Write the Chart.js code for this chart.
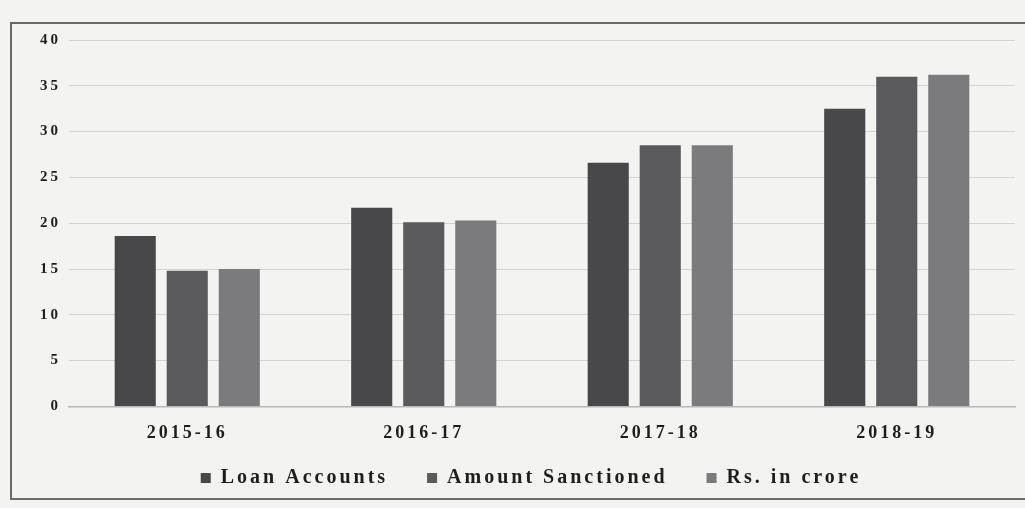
<!DOCTYPE html>
<html>
<head>
<meta charset="utf-8">
<script src="https://cdn.jsdelivr.net/npm/chart.js@4"></script>
<style>
  html, body { margin: 0; padding: 0; background: #f3f3f1; }
  #frame { position: absolute; left: 10px; top: 22px; width: 1040px; height: 478px; border: 2px solid #6a6a6a; box-sizing: border-box; }
  #wrap { position: absolute; left: 0; top: 0; width: 1025px; height: 508px; }
</style>
</head>
<body>
<div id="frame"></div>
<div id="wrap"><canvas id="c" width="1025" height="508"></canvas></div>
<script>
const categories = ["2015-16", "2016-17", "2017-18", "2018-19"];
const loanAccounts = [18.6, 21.7, 26.6, 32.5];
const amountSanctioned = [14.8, 20.1, 28.5, 36.0];
const rsInCrore = [15.0, 20.3, 28.5, 36.2];
const seriesNames = ["Loan Accounts", "Amount Sanctioned", "Rs. in crore"];
const yTicks = [0, 5, 10, 15, 20, 25, 30, 35, 40];

const serif = "'Liberation Serif', 'DejaVu Serif', serif";
const LS = '3px';
const legendFont = 20, legendPad = 39;
const legendTextY = 478, legendCenterX = 531;

const helper = {
  id: 'helper',
  beforeUpdate(c) { c.ctx.letterSpacing = LS; },
  beforeLayout(c) { c.ctx.letterSpacing = LS; },
  afterLayout(c) {
    const lg = c.legend;
    const dy = legendTextY - (lg.top + legendPad + legendFont / 2);
    lg.top += dy;
    lg.bottom = c.height;
    lg.height = lg.bottom - lg.top;
    const dx = legendCenterX - (lg.left + lg.right) / 2;
    lg.left += dx; lg.right += dx;
  },
  beforeDraw(c) { c.ctx.letterSpacing = LS; }
};

new Chart(document.getElementById('c'), {
  type: 'bar',
  plugins: [helper],
  data: {
    labels: categories,
    datasets: [
      { label: seriesNames[0], data: loanAccounts, backgroundColor: '#48484b' },
      { label: seriesNames[1], data: amountSanctioned, backgroundColor: '#5a5a5d' },
      { label: seriesNames[2], data: rsInCrore, backgroundColor: '#7b7b7d' }
    ]
  },
  options: {
    responsive: false,
    animation: false,
    layout: { padding: { left: 32, right: 10, top: 40, bottom: 0 } },
    datasets: { bar: { barPercentage: 0.79, categoryPercentage: 0.66 } },
    plugins: {
      tooltip: { enabled: false },
      legend: {
        position: 'bottom',
        maxHeight: 48,
        labels: {
          boxWidth: 10, boxHeight: 10, padding: legendPad,
          color: '#1e1e1e',
          font: { family: serif, size: legendFont, weight: 'bold' }
        }
      }
    },
    scales: {
      x: {
        grid: { display: false, drawTicks: false },
        border: { display: true, color: '#b8b8b8', width: 1.5 },
        ticks: { color: '#1e1e1e', padding: 16, font: { family: serif, size: 18, weight: 'bold' } }
      },
      y: {
        min: 0, max: 40,
        afterBuildTicks: (axis) => { axis.ticks = yTicks.map(v => ({ value: v })); },
        grid: { color: '#d3d3d3', lineWidth: 1, drawTicks: false },
        border: { display: false },
        ticks: { color: '#1e1e1e', padding: 8, font: { family: serif, size: 15, weight: 'bold' } }
      }
    }
  }
});
</script>
</body>
</html>
